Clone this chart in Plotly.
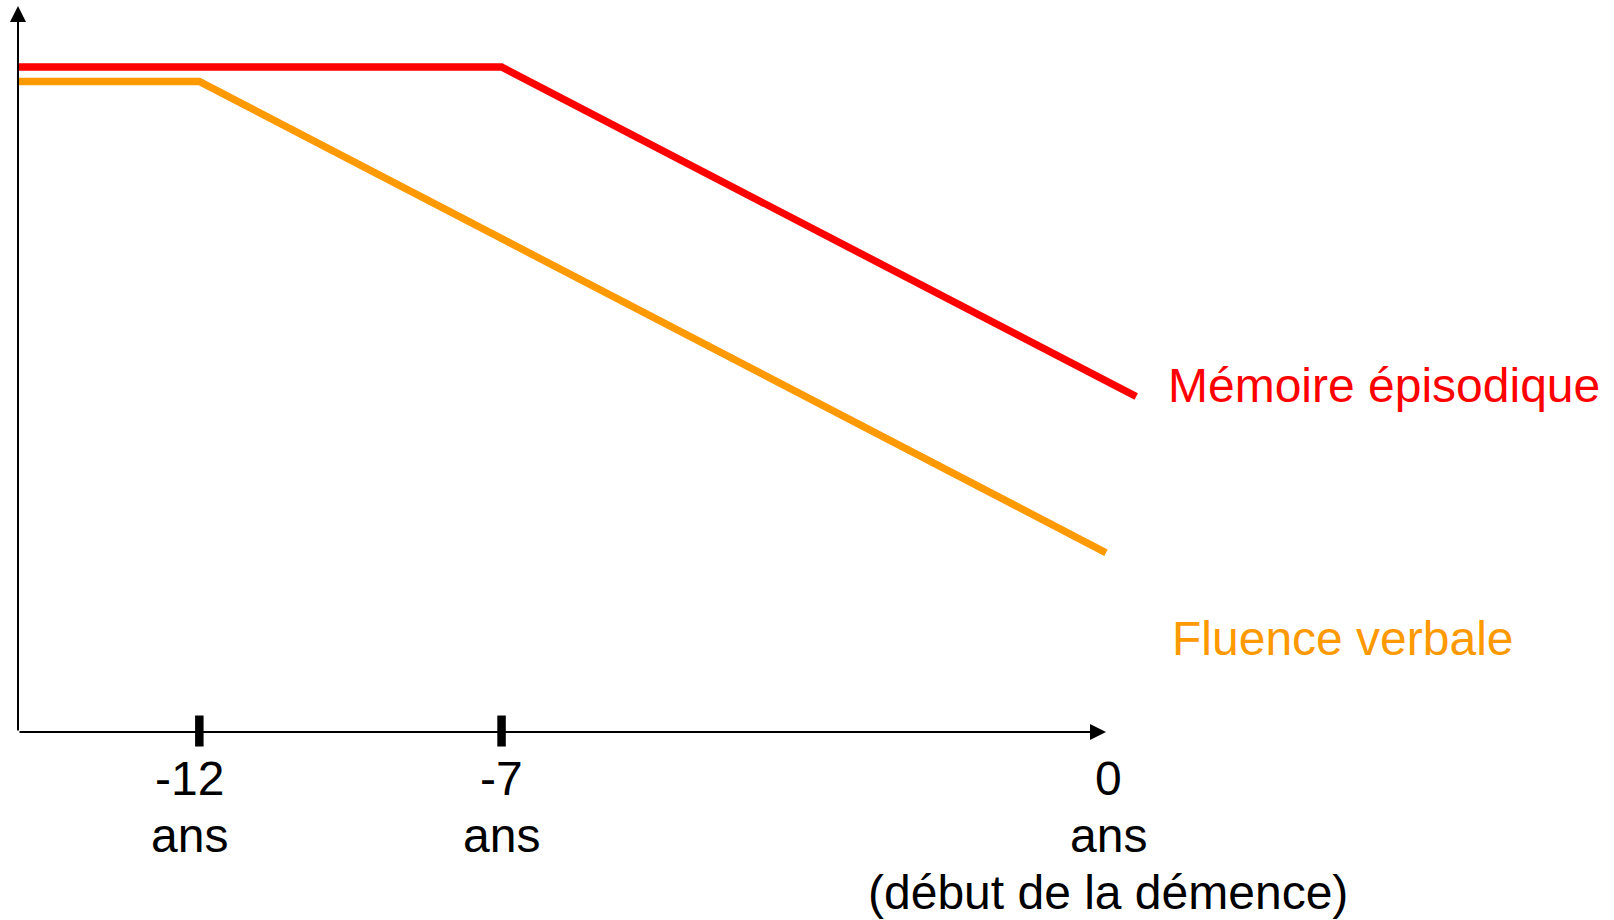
import numpy as np
import plotly.graph_objects as go

# ---------------- data ----------------
# years relative to dementia onset, cognitive level in arbitrary units (0-100)
memoire_years = [-15, -7, 0.35]
memoire_scores = [91.6, 91.6, 46.2]
fluence_years = [-15, -12, 0]
fluence_scores = [89.6, 89.6, 24.7]

tick_years = [-12, -7, 0]
tick_labels = ["-12", "-7", "0"]
tick_unit = "ans"
onset_note = "(début de la démence)"
series_names = ["Mémoire épisodique", "Fluence verbale"]
series_colors = ["#FF0000", "#FF9900"]

axis_start_year = -15
axis_top_score = 100


# schematic (not-to-scale) time axis: the last 7 years are stretched
def to_axis(years):
    y = np.asarray(years, dtype=float)
    return np.where(y <= -7, y + 15, 8 + (y + 7) * 10 / 7)


# ---------------- layout geometry ----------------
W, H = 1614, 920
ML = 18
X_AXIS_PX = 732          # pixel row of the time axis
PX_PER_U = 60.444
PX_PER_SCORE = 7.26
FONT = "Liberation Sans, Arial, sans-serif"
FS = 48

fig = go.Figure()

for yrs, sc, name, col in [
    (memoire_years, memoire_scores, series_names[0], series_colors[0]),
    (fluence_years, fluence_scores, series_names[1], series_colors[1]),
]:
    fig.add_trace(go.Scatter(x=to_axis(yrs), y=sc, mode="lines", name=name,
                             line=dict(color=col, width=7.3), hoverinfo="skip",
                             showlegend=False))

annotations = []
x0 = float(to_axis([axis_start_year])[0])
xend = float(to_axis([0])[0])
# y axis with arrow
annotations.append(dict(x=x0, y=axis_top_score, ax=x0, ay=0, xref="x", yref="y",
                        axref="x", ayref="y", text="", showarrow=True,
                        arrowhead=2, arrowsize=1.6, arrowwidth=2, arrowcolor="black"))
# x axis with arrow
annotations.append(dict(x=xend, y=0, ax=x0, ay=0, xref="x", yref="y",
                        axref="x", ayref="y", text="", showarrow=True,
                        arrowhead=2, arrowsize=1.6, arrowwidth=2, arrowcolor="black"))

# tick marks
shapes = []
for ty in tick_years[:-1]:
    tx = float(to_axis([ty])[0])
    shapes.append(dict(type="line", xref="x", yref="y", x0=tx, x1=tx,
                       y0=-2.0, y1=2.27, line=dict(color="black", width=8.5)))

# tick labels
label_xshift = {-12: -10, -7: 0, 0: 2.5}
for ty, tl in zip(tick_years, tick_labels):
    tx = float(to_axis([ty])[0])
    lines = [tl, tick_unit] + ([onset_note] if ty == 0 else [])
    for i, txt in enumerate(lines):
        annotations.append(dict(x=tx, y=0, xref="x", yref="y", text=txt,
                                showarrow=False, xanchor="center", yanchor="middle",
                                xshift=label_xshift[ty], yshift=-46.5 - 57 * i,
                                font=dict(family=FONT, size=FS, color="black")))

# series labels placed relative to the end of each line
for yrs, sc, name, col, dx, dy in [
    (memoire_years, memoire_scores, series_names[0], series_colors[0], 29.5, 11.5),
    (fluence_years, fluence_scores, series_names[1], series_colors[1], 64, -85.5),
]:
    annotations.append(dict(x=float(to_axis([yrs[-1]])[0]), y=sc[-1], xref="x", yref="y",
                            text=name, showarrow=False, xanchor="left", yanchor="middle",
                            xshift=dx, yshift=dy,
                            font=dict(family=FONT, size=FS, color=col)))

fig.update_layout(
    width=W, height=H, autosize=False,
    margin=dict(l=ML, r=0, t=0, b=0, pad=0),
    paper_bgcolor="white", plot_bgcolor="white",
    xaxis=dict(range=[0, (W - ML) / PX_PER_U], visible=False, fixedrange=True),
    yaxis=dict(range=[-(H - X_AXIS_PX) / PX_PER_SCORE, X_AXIS_PX / PX_PER_SCORE],
               visible=False, fixedrange=True),
    annotations=annotations, shapes=shapes, showlegend=False,
)

fig.write_html("out.html", config={"displayModeBar": False},
               post_script="document.body.style.margin='0px';")
